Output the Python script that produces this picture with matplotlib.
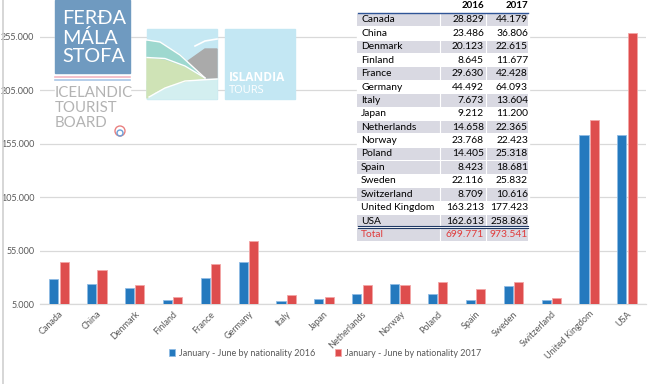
import numpy as np
import matplotlib.pyplot as plt
from matplotlib.patches import Rectangle, Polygon, Circle

countries = ['Canada', 'China', 'Denmark', 'Finland', 'France', 'Germany', 'Italy',
             'Japan', 'Netherlands', 'Norway', 'Poland', 'Spain', 'Sweden',
             'Switzerland', 'United Kingdom', 'USA']
v2016 = [28829, 23486, 20123, 8645, 29630, 44492, 7673, 9212, 14658, 23768,
         14405, 8423, 22116, 8709, 163213, 162613]
v2017 = [44179, 36806, 22615, 11677, 42428, 64093, 13604, 11200, 22365, 22423,
         25318, 18681, 25832, 10616, 177423, 258863]
total2016 = 699771
total2017 = 973541
yticks = [5000, 55000, 105000, 155000, 205000, 255000]
label16 = 'January - June by nationality 2016'
label17 = 'January - June by nationality 2017'
gray_rows = [True, False, True, False, True, False, True, False, True, False,
             True, True, False, True, False, True]

BLUE = '#2479BE'
RED = '#DE4D4D'
GRID = '#D9D9D9'
TXT = '#595959'
NARROW = ['Liberation Sans Narrow', 'Lato', 'DejaVu Sans']

plt.rcParams['font.family'] = ['Lato', 'DejaVu Sans']


def fmt(v):
    return f'{v:,}'.replace(',', '.')


fig = plt.figure(figsize=(6.5, 3.84), dpi=100)
ax = fig.add_axes([40 / 650, 1 - 304 / 384, 606 / 650, 304 / 384])

x = np.arange(len(countries))
w = 0.24
ax.bar(x - 0.137, v2016, w, color=BLUE, edgecolor='#8FBCE4', linewidth=0.6, label=label16, zorder=3)
ax.bar(x + 0.137, v2017, w, color=RED, edgecolor='#F3A5A5', linewidth=0.6, label=label17, zorder=3)

ax.set_xlim(-0.5, len(countries) - 0.5)
ax.set_ylim(5000, 289300)
ax.set_yticks(yticks)
ax.set_yticklabels([fmt(v) for v in yticks], fontsize=6.5, color=TXT)
ax.set_xticks(x)
ax.set_xticklabels(countries, rotation=45, ha='right', rotation_mode='anchor', fontsize=6.5, color=TXT)
ax.tick_params(length=0, pad=4)
ax.grid(axis='y', color=GRID, linewidth=0.9, zorder=0)
for s in ['top', 'right', 'left']:
    ax.spines[s].set_visible(False)
ax.spines['bottom'].set_color(GRID)
ax.spines['bottom'].set_linewidth(0.9)

fig.legend(loc='center', bbox_to_anchor=(0.5, 1 - 353 / 384), ncol=2, frameon=False,
           fontsize=6.5, handlelength=0.7, handleheight=0.7, handletextpad=0.4,
           columnspacing=2.2, labelcolor=TXT)

# overlay in pixel coordinates for logos and table
ov = fig.add_axes([0, 0, 1, 1])
ov.set_xlim(0, 650)
ov.set_ylim(384, 0)
ov.axis('off')
ov.plot([2.5, 2.5], [0, 384], color='#D0D0D0', lw=1.2)

# Ferdamalastofa logo
ov.add_patch(Rectangle((55, 0), 75, 137, color='white'))
ov.add_patch(Rectangle((55, 0), 75, 73, color='#6F9AC0'))
for t, yy in [('FERÐA', 18.5), ('MÁLA', 38), ('STOFA', 56)]:
    ov.text(62, yy, t, color='white', fontsize=14.3, ha='left', va='center', family=NARROW)
ov.plot([55, 130], [77, 77], color='#F4B6C2', lw=1.2)
ov.plot([55, 130], [79.5, 79.5], color='#A8C6E6', lw=1.2)
for t, yy in [('ICELANDIC', 93), ('TOURIST', 108), ('BOARD', 123)]:
    ov.text(55, yy, t, color='#B3B3B3', fontsize=10.8, ha='left', va='center', family=NARROW)
ov.add_patch(Circle((120, 131), 5, fill=False, ec='#E98080', lw=1))
ov.add_patch(Circle((120, 133), 3, fill=False, ec='#6AA0D8', lw=1))

# Islandia logo
ov.add_patch(Rectangle((147, 29), 70, 70, color='#C5E8F3'))
ov.add_patch(Polygon([(147, 81), (170, 81), (195, 80), (217, 79), (217, 99), (147, 99)], color='#D3EFF0'))
ov.add_patch(Polygon([(147, 58), (165, 59), (185, 66), (205, 78), (190, 80), (170, 85), (155, 92),
                      (147, 98)], color='#CFE3B6'))
ov.add_patch(Polygon([(147, 41), (160, 43), (180, 55), (205, 78), (185, 66), (165, 59), (147, 57)],
                     color='#9ED8CF'))
ov.add_patch(Polygon([(188, 61), (205, 49), (217, 49), (217, 78), (205, 78)], color='#AAAAAA'))
ov.plot([147, 160, 180, 205], [40, 42, 55, 78], color='white', lw=1)
ov.plot([147, 165, 185, 205], [57.5, 58.5, 66, 78], color='white', lw=1)
ov.plot([149, 165, 185, 217], [97, 88, 81, 79], color='white', lw=1)
ov.plot([195, 205, 217], [46, 41, 39], color='white', lw=1.2)
ov.add_patch(Rectangle((225, 29), 70, 70, color='#C3E7F3'))
ov.text(229, 77.5, 'ISLANDIA', color='white', fontsize=8.6, ha='left', va='center', weight='bold',
        family='Open Sans')
ov.text(229, 90.5, 'TOURS', color='white', fontsize=8, ha='left', va='center', family='Open Sans')

# table
tx0, tx1 = 357, 528
ov.add_patch(Rectangle((tx0, 0), tx1 - tx0 + 1, 241, color='white'))
ov.text(484, 5.5, '2016', ha='right', va='center', fontsize=7, weight='bold', color='black')
ov.text(528, 5.5, '2017', ha='right', va='center', fontsize=7, weight='bold', color='black')
rh = 13.4
for i, c in enumerate(countries):
    yc = 20 + rh * i
    if gray_rows[i]:
        ov.add_patch(Rectangle((tx0, yc - rh / 2 + 0.4), tx1 - tx0, rh - 0.8, color='#D9D9E2', lw=0))
    ov.text(361, yc, c, ha='left', va='center', fontsize=7.4, color='black')
    ov.text(484, yc, fmt(v2016[i]), ha='right', va='center', fontsize=7.4, color='black')
    ov.text(528, yc, fmt(v2017[i]), ha='right', va='center', fontsize=7.4, color='black')
yc = 20 + rh * len(countries)
ov.add_patch(Rectangle((tx0, yc - rh / 2), tx1 - tx0, rh, color='#D9D9E2', lw=0))
ov.text(361, yc, 'Total', ha='left', va='center', fontsize=7.4, color='#E03C3C')
ov.text(484, yc, fmt(total2016), ha='right', va='center', fontsize=7.4, color='#E03C3C')
ov.text(528, yc, fmt(total2017), ha='right', va='center', fontsize=7.4, color='#E03C3C')
for xs in [440, 485.5]:
    ov.plot([xs, xs], [0, 241], color='white', lw=0.8)
ov.plot([358, 528], [12.5, 12.5], color='#2F5597', lw=1)
ov.plot([358, 528], [226.2, 226.2], color='#1F3864', lw=0.8)
ov.plot([358, 528], [227.8, 227.8], color='#1F3864', lw=0.8)

fig.savefig('out.png', dpi=100)
